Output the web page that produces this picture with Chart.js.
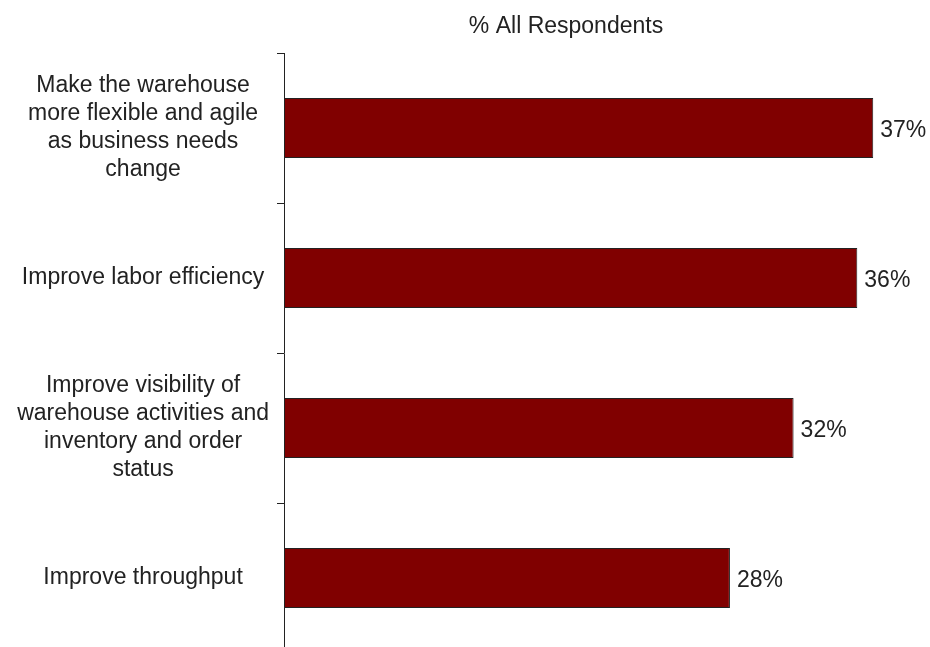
<!DOCTYPE html>
<html lang="en">
<head>
  <meta charset="UTF-8">
  <title>% All Respondents</title>
  <style>
    html, body {
      margin: 0;
      padding: 0;
      background: #fff;
      overflow: hidden;
    }
    #chart {
      display: block;
    }
  </style>
</head>
<body>
  <canvas id="chart" width="930" height="660"></canvas>
  <script src="https://cdn.jsdelivr.net/npm/chart.js@4/dist/chart.umd.min.js"></script>
  <script>
    const categories = [
      ['Make the warehouse', 'more flexible and agile', 'as business needs', 'change'],
      'Improve labor efficiency',
      ['Improve visibility of', 'warehouse activities and', 'inventory and order', 'status'],
      'Improve throughput'
    ];
    const percentages = [37, 36, 32, 28];
    const chartTitle = '% All Respondents';

    const textColor = '#222';
    const fontFamily = 'Arial, "Liberation Sans", sans-serif';

    // heading above the bars
    const headingPlugin = {
      id: 'heading',
      afterDraw(chart) {
        const ctx = chart.ctx;
        ctx.save();
        ctx.font = '23px ' + fontFamily;
        ctx.fillStyle = textColor;
        ctx.textAlign = 'center';
        ctx.textBaseline = 'middle';
        ctx.fillText(chartTitle, chart.chartArea.left + 282, 27);
        ctx.restore();
      }
    };

    // percentage to the right of each bar
    const valueLabels = {
      id: 'valueLabels',
      afterDatasetsDraw(chart) {
        const ctx = chart.ctx;
        const meta = chart.getDatasetMeta(0);
        ctx.save();
        ctx.font = '23px ' + fontFamily;
        ctx.fillStyle = textColor;
        ctx.textAlign = 'left';
        ctx.textBaseline = 'middle';
        meta.data.forEach((bar, i) => {
          ctx.fillText(percentages[i] + '%', bar.x + 7, bar.y + 3);
        });
        ctx.restore();
      }
    };

    new Chart(document.getElementById('chart'), {
      type: 'bar',
      data: {
        labels: categories,
        datasets: [{
          data: percentages,
          backgroundColor: '#800000',
          borderColor: '#222',
          borderWidth: 1,
          borderSkipped: false,
          categoryPercentage: 1,
          barPercentage: 0.4
        }]
      },
      options: {
        indexAxis: 'y',
        responsive: false,
        animation: false,
        layout: {
          padding: { top: 53, right: 9, bottom: 7, left: 0 }
        },
        plugins: {
          legend: { display: false },
          tooltip: { enabled: false }
        },
        scales: {
          x: {
            display: false,
            min: 0,
            max: 40
          },
          y: {
            afterFit(scale) {
              // fixed label column; tall multi-line labels shouldn't shrink the plot
              scale.width = 284;
              scale.paddingTop = 0;
              scale.paddingBottom = 0;
            },
            border: { display: true, color: '#222', width: 1 },
            grid: {
              offset: true,
              drawOnChartArea: false,
              drawTicks: true,
              tickLength: 7,
              color: '#222'
            },
            ticks: {
              crossAlign: 'center',
              padding: 8,
              color: textColor,
              font: { family: fontFamily, size: 23, lineHeight: 1.22 }
            }
          }
        }
      },
      plugins: [headingPlugin, valueLabels]
    });
  </script>
</body>
</html>
